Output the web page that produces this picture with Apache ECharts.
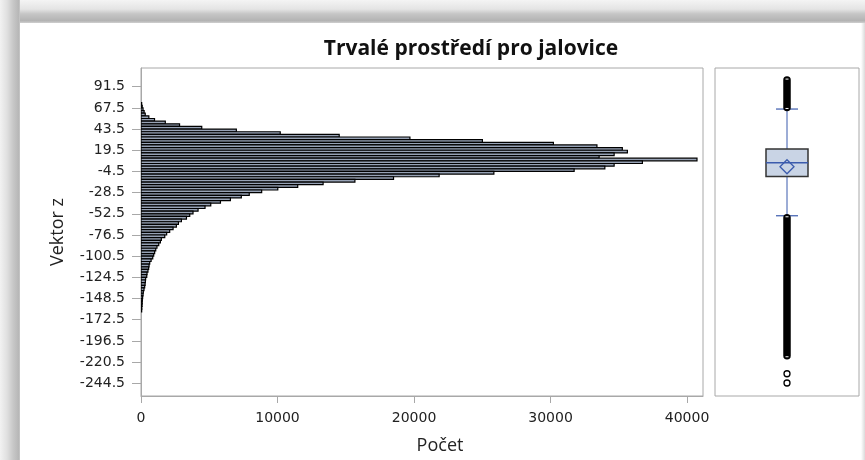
<!DOCTYPE html>
<html>
<head>
<meta charset="utf-8">
<script src="https://cdn.jsdelivr.net/npm/echarts@6/dist/echarts.min.js"></script>
<style>
  html, body { margin: 0; padding: 0; background: #ffffff; }
  #chart { width: 865px; height: 460px; }
</style>
</head>
<body>
<div id="chart"></div>
<script>
// ---------- data ----------
const titleText = 'Trvalé prostředí pro jalovice';
const yAxisTitle = 'Vektor z';
const xAxisTitle = 'Počet';

// histogram bins (centre of each bin, width 3) and counts
const binWidth = 3;
const binCenters = [72, 69, 66, 63, 60, 57, 54, 51, 48, 45, 42, 39, 36, 33, 30, 27, 24, 21, 18, 15, 12, 9, 6, 3, 0,
  -3, -6, -9, -12, -15, -18, -21, -24, -27, -30, -33, -36, -39, -42, -45, -48, -51, -54, -57, -60, -63, -66, -69,
  -72, -75, -78, -81, -84, -87, -90, -93, -96, -99, -102, -105, -108, -111, -114, -117, -120, -123, -126, -129,
  -132, -135, -138, -141, -144, -147, -150, -153, -156, -159, -162];
const binCounts = [50, 90, 150, 230, 310, 575, 990, 1780, 2825, 4450, 6985, 10200, 14520, 19700, 25010, 30210, 33400,
  35260, 35630, 34660, 33560, 40730, 36730, 34660, 33980,
  31730, 25850, 21840, 18500, 15670, 13340, 11480, 10020, 8840, 7930, 7350, 6550, 5820, 5110, 4690, 4180, 3810, 3570,
  3330, 2960, 2740, 2590, 2350, 2100, 1880, 1740, 1490, 1420, 1300, 1170, 1080, 1000, 930, 860, 740, 640, 590, 560,
  510, 440, 420, 340, 320, 300, 270, 220, 170, 150, 120, 100, 90, 80, 60, 50];

// axis tick labels
const yTickLabels = [91.5, 67.5, 43.5, 19.5, -4.5, -28.5, -52.5, -76.5, -100.5, -124.5, -148.5, -172.5, -196.5, -220.5, -244.5];
const xTickLabels = [0, 10000, 20000, 30000, 40000];

// box plot statistics
const boxQuartiles = [-10.2, 5.4, 20.9];   // Q1, median, Q3
const boxWhiskers = [-54.7, 66.2];         // low, high
const boxMean = [0.8];
const outlierBands = [[-213.3, -57.0], [68.0, 99.0]]; // dense runs of outliers (overlapping circles)
const outlierPoints = [-233.7, -244.2];

// ---------- chart ----------
const Y_MIN = -258.9, Y_MAX = 112.7;
const X_MAX = 41170;
const tickFont = { fontFamily: 'DejaVu Sans', fontSize: 14, color: '#222' };
const blue = '#3b5bad';

const chart = echarts.init(document.getElementById('chart'), null, { renderer: 'canvas' });

function renderBin(params, api) {
  const c = api.value(0), n = api.value(1);
  const p0 = api.coord([0, c + binWidth / 2]);
  const p1 = api.coord([n, c - binWidth / 2]);
  return {
    type: 'rect',
    shape: { x: p0[0], y: p0[1], width: p1[0] - p0[0], height: p1[1] - p0[1] },
    style: { fill: '#97a2b5', stroke: '#000000', lineWidth: 1.2 }
  };
}

function renderBox(params, api) {
  const cx = api.coord([0, 0])[0];
  const y = v => api.coord([0, v])[1];
  const halfBox = 21, halfCap = 11, halfDia = 7;
  const yQ1 = y(boxQuartiles[0]), yMed = y(boxQuartiles[1]), yQ3 = y(boxQuartiles[2]);
  const yLo = y(boxWhiskers[0]), yHi = y(boxWhiskers[1]), yMean = y(boxMean[0]);
  const children = [
    { type: 'line', shape: { x1: cx, y1: yQ3, x2: cx, y2: yHi }, style: { stroke: blue, lineWidth: 1 } },
    { type: 'line', shape: { x1: cx, y1: yQ1, x2: cx, y2: yLo }, style: { stroke: blue, lineWidth: 1 } },
    { type: 'line', shape: { x1: cx - halfCap, y1: yHi, x2: cx + halfCap, y2: yHi }, style: { stroke: blue, lineWidth: 1.2 } },
    { type: 'line', shape: { x1: cx - halfCap, y1: yLo, x2: cx + halfCap, y2: yLo }, style: { stroke: blue, lineWidth: 1.2 } },
    { type: 'rect', shape: { x: cx - halfBox, y: yQ3, width: 2 * halfBox, height: yQ1 - yQ3 },
      style: { fill: '#c9d4e5', stroke: '#333333', lineWidth: 1.5 } },
    { type: 'line', shape: { x1: cx - halfBox, y1: yMed, x2: cx + halfBox, y2: yMed }, style: { stroke: blue, lineWidth: 1.5 } },
    { type: 'polygon', shape: { points: [[cx, yMean - halfDia], [cx + halfDia, yMean], [cx, yMean + halfDia], [cx - halfDia, yMean]] },
      style: { fill: 'none', stroke: blue, lineWidth: 1.3 } }
  ];
  outlierBands.forEach(b => {
    const yA = y(b[1]), yB = y(b[0]);
    children.push({ type: 'line', shape: { x1: cx, y1: yA, x2: cx, y2: yB },
      style: { stroke: '#000', lineWidth: 7.5, lineCap: 'round' } });
    children.push({ type: 'line', shape: { x1: cx - 1.5, y1: yA - 1, x2: cx + 1.5, y2: yA - 1 }, style: { stroke: '#fff', lineWidth: 1 } });
    children.push({ type: 'line', shape: { x1: cx - 1.5, y1: yB + 1, x2: cx + 1.5, y2: yB + 1 }, style: { stroke: '#fff', lineWidth: 1 } });
  });
  return { type: 'group', children };
}

const option = {
  animation: false,
  backgroundColor: '#ffffff',
  graphic: [
    { type: 'rect', z: 0, shape: { x: 0, y: 0, width: 865, height: 23 },
      style: { fill: new echarts.graphic.LinearGradient(0, 0, 0, 1, [
        { offset: 0, color: '#f4f4f4' }, { offset: 0.4, color: '#e4e4e4' },
        { offset: 0.6, color: '#c6c6c6' }, { offset: 0.9, color: '#b3b3b3' }, { offset: 1, color: '#d0d0d0' }]) } },
    { type: 'rect', z: 0, shape: { x: 0, y: 0, width: 20, height: 460 },
      style: { fill: new echarts.graphic.LinearGradient(0, 0, 1, 0, [
        { offset: 0, color: '#f2f2f2' }, { offset: 0.35, color: '#e0e0e0' },
        { offset: 0.65, color: '#c8c8c8' }, { offset: 0.95, color: '#b6b6b6' }, { offset: 1, color: '#d0d0d0' }]) } },
    { type: 'rect', z: 0, shape: { x: 861, y: 23, width: 4, height: 437 },
      style: { fill: new echarts.graphic.LinearGradient(0, 0, 1, 0, [
        { offset: 0, color: '#ffffff' }, { offset: 1, color: '#dadada' }]) } }
  ],
  title: {
    text: titleText,
    left: 466, top: 34, textAlign: 'center',
    textStyle: { fontFamily: 'Open Sans', fontWeight: 'bold', fontSize: 21, color: '#111' }
  },
  grid: [
    { left: 141, top: 68, width: 562, height: 328, show: true, borderColor: '#a8a8a8', borderWidth: 1, backgroundColor: 'transparent' },
    { left: 715, top: 68, width: 144, height: 328, show: true, borderColor: '#a8a8a8', borderWidth: 1, backgroundColor: 'transparent' }
  ],
  xAxis: [
    {
      gridIndex: 0, type: 'value', min: 0, max: X_MAX,
      name: xAxisTitle, nameLocation: 'middle', nameGap: 41,
      nameTextStyle: { fontFamily: 'Open Sans', fontSize: 18, color: '#222', padding: [0, 0, 0, 36] },
      axisLine: { show: true, onZero: false, lineStyle: { color: '#a8a8a8' } },
      axisTick: { show: true, length: 7, lineStyle: { color: '#a8a8a8' }, customValues: xTickLabels },
      axisLabel: Object.assign({ margin: 15, customValues: xTickLabels, formatter: v => String(v) }, tickFont),
      splitLine: { show: false }
    },
    { gridIndex: 1, type: 'value', min: -1, max: 1, show: false }
  ],
  yAxis: [
    {
      gridIndex: 0, type: 'value', min: Y_MIN, max: Y_MAX,
      name: yAxisTitle, nameLocation: 'middle', nameGap: 74, nameRotate: 90,
      nameTextStyle: { fontFamily: 'Open Sans', fontSize: 18, color: '#222' },
      axisLine: { show: true, onZero: false, lineStyle: { color: '#a8a8a8' } },
      axisTick: { show: true, length: 9, lineStyle: { color: '#a8a8a8' }, customValues: yTickLabels },
      axisLabel: Object.assign({ margin: 16, customValues: yTickLabels, formatter: v => String(v) }, tickFont),
      splitLine: { show: false }
    },
    { gridIndex: 1, type: 'value', min: Y_MIN, max: Y_MAX, show: false }
  ],
  series: [
    {
      type: 'custom', xAxisIndex: 0, yAxisIndex: 0,
      renderItem: renderBin,
      encode: { x: 1, y: 0 },
      data: binCenters.map((c, i) => [c, binCounts[i]]),
      clip: true
    },
    {
      type: 'custom', xAxisIndex: 1, yAxisIndex: 1,
      renderItem: renderBox,
      encode: { x: 0, y: 1 },
      data: [[0, boxQuartiles[1]]]
    },
    {
      type: 'scatter', xAxisIndex: 1, yAxisIndex: 1,
      symbol: 'circle', symbolSize: 6,
      itemStyle: { color: '#ffffff', borderColor: '#000000', borderWidth: 1.3, opacity: 1 },
      data: outlierPoints.map(v => [0, v])
    }
  ]
};
chart.setOption(option);
</script>
</body>
</html>
